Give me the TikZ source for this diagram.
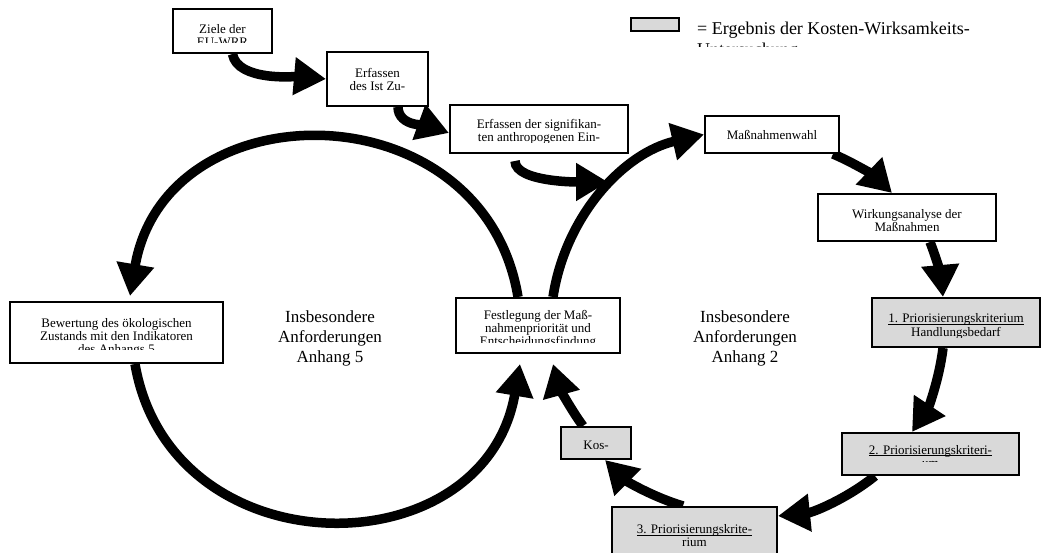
\documentclass[tikz,border=0pt]{standalone}
\usepackage{fontspec}
\setmainfont{Liberation Serif}
\usetikzlibrary{arrows.meta,backgrounds}
\definecolor{boxgray}{RGB}{217,217,217}
\newcommand\myul[1]{\setbox0=\hbox{#1}\rlap{\rule[-1.6pt]{\wd0}{0.8pt}}\box0}
\newcommand\boxfont{\fontsize{13}{13}\selectfont}
\tikzset{
  txtoff/.store in=\txtoff, clipoff/.store in=\clipoff, txtoff=22pt, clipoff=10pt,
  tb/.style={draw, line width=2pt, fill=white, inner sep=0pt, path picture={
     \clip ([yshift=\clipoff]path picture bounding box.south west) rectangle (path picture bounding box.north east);
     \pgftext[base,at={\pgfpointadd{\pgfpointanchor{path picture bounding box}{north}}{\pgfpoint{0pt}{-\txtoff}}}]{\boxfont\begin{tabular}[t]{@{}c@{}}#1\end{tabular}}
  }},
  gb/.style={tb={#1}, fill=boxgray},
  arr/.style={line width=9.5pt, -{Triangle[length=32pt,width=36pt]}},
}
\begin{document}
\begin{tikzpicture}[x=1pt,y=1pt]
\useasboundingbox (0,0) rectangle (1042,553);
\clip (0,0) rectangle (1042,553);
% boxes
\node[tb={Ziele der\\EU-WRR}, txtoff=24.5pt, clipoff=10pt, minimum width=99pt, minimum height=44pt] (zie) at (222.5,522) {};
\node[tb={Erfassen\\des Ist Zu-\\standes}, txtoff=25.5pt, clipoff=15pt, minimum width=101pt, minimum height=54pt] (ist) at (377.5,474) {};
\node[tb={Erfassen der signifikan-\\ten anthropogenen Ein-\\wirkungen}, txtoff=23.5pt, clipoff=10pt, minimum width=178pt, minimum height=48pt] (sig) at (539,424) {};
\node[tb={Maßnahmenwahl}, txtoff=23.5pt, minimum width=134pt, minimum height=37pt] (mw) at (772,418.5) {};
\node[tb={Wirkungsanalyse der\\Maßnahmen}, txtoff=24.5pt, clipoff=8pt, minimum width=178pt, minimum height=47pt] (wir) at (907,335.5) {};
\node[tb={Bewertung des ökologischen\\Zustands mit den Indikatoren\\des Anhangs 5}, txtoff=25.5pt, clipoff=13pt, minimum width=213pt, minimum height=61pt] (bew) at (116.5,220.5) {};
\node[tb={Festlegung der Maß-\\nahmenpriorität und\\Entscheidungsfindung}, txtoff=21.5pt, clipoff=10pt, minimum width=164pt, minimum height=55pt] (fest) at (538,227.5) {};
\node[gb={\myul{1. Priorisierungskriterium}\\Handlungsbedarf}, txtoff=25pt, clipoff=9pt, minimum width=168pt, minimum height=49pt] (p1) at (956,230.5) {};
\node[gb={\myul{2. Priorisierungskriteri-}\\\myul{um}}, txtoff=21.5pt, clipoff=13pt, minimum width=177pt, minimum height=42pt] (p2) at (930.5,99) {};
\node[gb={\myul{3. Priorisierungskrite-}\\rium}, txtoff=27pt, clipoff=6pt, minimum width=165pt, minimum height=70pt] (p3) at (694.5,11) {};
\node[gb={Kos-\\ten}, txtoff=22.5pt, clipoff=10pt, minimum width=70pt, minimum height=32pt] (kos) at (596,110) {};
% legend
\node[draw, line width=2pt, fill=boxgray, inner sep=0pt, minimum width=48pt, minimum height=13pt] (legbox) at (655,528.5) {};
\begin{scope}
\clip (680,506) rectangle (1042,553);
\node[anchor=base west, inner sep=0pt, font=\fontsize{18}{21}\selectfont] (legtext) at (697,518) {\begin{tabular}[t]{@{}l@{}}= Ergebnis der Kosten-Wirksamkeits-\\Untersuchung\end{tabular}};
\end{scope}
% circle labels
\node[anchor=base, inner sep=0pt, font=\fontsize{17}{20}\selectfont] (insL) at (330,230) {\begin{tabular}[t]{@{}c@{}}Insbesondere\\Anforderungen\\Anhang 5\end{tabular}};
\node[anchor=base, inner sep=0pt, font=\fontsize{17}{20}\selectfont] (insR) at (745,230) {\begin{tabular}[t]{@{}c@{}}Insbesondere\\Anforderungen\\Anhang 2\end{tabular}};
\coordinate (tipc) at (608,371);
% arrows
\begin{scope}[on background layer]
\draw[arr] ([xshift=10pt]zie.south) to[out=-80,in=175,looseness=0.75] (ist.west);
\draw[arr] ([xshift=20.5pt]ist.south) to[out=-90,in=160,looseness=0.9] ([yshift=-4pt]sig.west);
\draw[arr] ([xshift=-24pt,yshift=-7pt]sig.south) to[out=-90,in=180,looseness=0.6] (tipc);
\draw[arr] ([xshift=15pt]fest.north) to[bend left=34.2,looseness=0.95] (mw.west);
\draw[arr] ([xshift=61pt]mw.south) to[bend left=10.5,looseness=0.86] ([xshift=-15pt]wir.north);
\draw[arr] ([xshift=23pt]wir.south) to[bend left=8.3,looseness=0.86] ([xshift=-13pt]p1.north);
\draw[arr] ([xshift=-13pt]p1.south) to[bend left=13.5,looseness=0.86] ([xshift=-18.5pt]p2.north);
\draw[arr] ([xshift=-55.5pt]p2.south) to[bend left=16.5,looseness=0.87] ([yshift=-10pt]p3.north east);
\draw[arr] ([xshift=-11.5pt]p3.north) to[bend left=14,looseness=0.86] ([xshift=9pt]kos.south);
\draw[arr] ([xshift=-13pt]kos.north) to[bend left=10.5,looseness=0.86] ([xshift=15pt,yshift=-10pt]fest.south);
\draw[arr] ([xshift=-20pt]fest.north) to[bend right=80.5,looseness=1.40] ([xshift=13.5pt,yshift=5pt]bew.north);
\draw[arr] ([xshift=18.5pt]bew.south) to[bend right=80.25,looseness=1.40] ([xshift=-18pt,yshift=-10pt]fest.south);
\end{scope}
\end{tikzpicture}
\end{document}
